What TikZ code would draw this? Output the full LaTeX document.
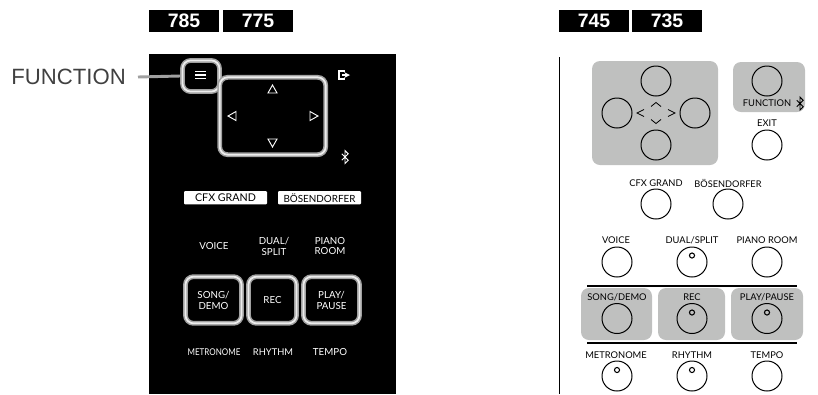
\documentclass[tikz,border=0pt]{standalone}
\usepackage{fontspec}
\setmainfont{Lato}
\newfontfamily\headfont{Liberation Sans}
\definecolor{panelgray}{HTML}{BFC0BF}
\definecolor{rimgray}{HTML}{A0A0A0}
\definecolor{rimlight}{HTML}{EDEDED}
\tikzset{
  x=0.75pt,y=-0.75pt,
  badge/.style={fill=black,text=white,minimum width=52.5pt,minimum height=16.5pt,inner sep=0pt,font=\headfont\bfseries\fontsize{14.6}{14}\selectfont},
  lab/.style={font=\fontsize{7}{7.5}\selectfont,inner sep=0pt,align=center},
  wlab/.style={font=\fontsize{7.3}{8.2}\selectfont,inner sep=0pt,align=center,text=white},
  knob/.style={circle,draw=black,line width=0.75pt,minimum size=22.5pt,inner sep=0pt},
  rim/.style={rectangle,rounded corners=6pt,draw=rimgray,line width=3.6pt,inner sep=0pt,
     postaction={draw=rimlight,line width=1.3pt}},
  hilite/.style={fill=panelgray,rounded corners=6pt},
  arrowmark/.style={draw=white,line width=0.7pt,line join=miter},
  cue/.style={draw=black,line width=0.6pt},
  ledmark/.style={circle,draw=black,line width=0.8pt,minimum size=3.8pt,inner sep=0pt},
  whitetag/.style={fill=white,rounded corners=0.8pt,minimum width=62.25pt,minimum height=10pt,inner sep=0pt,align=center},
}
\newcommand{\btsym}[3]{% x,y,colour
  \draw[#3,line width=0.7pt] (#1-3.2,#2-3.2) -- (#1+3.2,#2+3.2) -- (#1,#2+6.4) -- (#1,#2-6.4) -- (#1+3.2,#2-3.2) -- (#1-3.2,#2+3.2);}
\begin{document}
\begin{tikzpicture}
\useasboundingbox (0,0) rectangle (818,394);
% badges
\node[badge] (b785) at (184,21) {785};
\node[badge] (b775) at (258,21) {775};
\node[badge] (b745) at (594,21) {745};
\node[badge] (b735) at (667,21) {735};
% left panel
\fill[black] (149,54) rectangle (396,394);
\node[font=\headfont\fontsize{16.6}{16}\selectfont,inner sep=0pt,text=black!75,anchor=east] (fn) at (126,77) {FUNCTION};
\node[rim,minimum width=27.75pt,minimum height=23.25pt] (menu) at (201,76) {};
\foreach \yy in {71.5,75,78.5} \draw[white,line width=1.1pt] (195,\yy) -- (206,\yy);
\node[rim,minimum width=79.5pt,minimum height=58pt] (dpad) at (272.7,116) {};
\draw[rimgray,line width=2.2pt] ([xshift=9pt]fn.east) -- (menu.west);
% d-pad arrows
\draw[arrowmark] (272.5,85) -- (268,93) -- (277,93) -- cycle;
\draw[arrowmark] (272.5,147) -- (268,139) -- (277,139) -- cycle;
\draw[arrowmark] (228,116) -- (236,111.5) -- (236,120.5) -- cycle;
\draw[arrowmark] (318,116) -- (310,111.5) -- (310,120.5) -- cycle;
% exit icon
\draw[white,line width=0.9pt] (345,71) -- (339,71) -- (339,79) -- (345,79);
\draw[white,line width=0.9pt,-stealth] (342,75) -- (350,75);
\btsym{345}{157}{white}
% left labels
\node[whitetag,font=\fontsize{8}{8}\selectfont] (cfxL) at (225.5,197.7) {CFX GRAND};
\node[whitetag,font=\fontsize{7.4}{8}\selectfont] (bosL) at (319.5,197.7) {BÖSENDORFER};
\node[wlab] (voiceL) at (214,246) {VOICE};
\node[wlab] (dualL) at (274,246) {DUAL/\\SPLIT};
\node[wlab] (pianoL) at (330,246) {PIANO\\ROOM};
\node[rim,minimum width=42pt,minimum height=35pt] (songL) at (213.5,300) {};
\node[rim,minimum width=36pt,minimum height=35pt] (recL) at (272.5,300) {};
\node[rim,minimum width=42pt,minimum height=35pt] (playL) at (331.5,300) {};
\node[wlab] at (songL.center) {SONG/\\DEMO};
\node[wlab] at (recL.center) {REC};
\node[wlab] at (playL.center) {PLAY/\\PAUSE};
\node[wlab,font=\fontsize{7}{7}\selectfont,transform shape,xscale=.857] (metroL) at (214,352) {METRONOME};
\node[wlab,font=\fontsize{7}{7}\selectfont] (rhythmL) at (273,352) {RHYTHM};
\node[wlab] (tempoL) at (330,352) {TEMPO};
% right side
\draw[black,line width=0.8pt] (559.5,57) -- (559.5,394);
\fill[hilite] (592,61) rectangle (718,165);
\fill[hilite] (733,62) rectangle (805,112);
\fill[hilite] (581,288) rectangle (652,340);
\fill[hilite] (658,288) rectangle (725,340);
\fill[hilite] (731,288) rectangle (803,340);
\draw[black,line width=1pt] (587,286) -- (797,286);
\draw[black,line width=1pt] (587,343) -- (797,343);
% cross
\node[knob] (up) at (656,81) {};
\node[knob] (left) at (617,113) {};
\node[knob] (right) at (695,113) {};
\node[knob] (down) at (656,145) {};
\draw[cue] (644,109.5) -- (637,113) -- (644,116.5);
\draw[cue] (668,109.5) -- (675,113) -- (668,116.5);
\draw[cue] (651,106.5) -- (656,102.5) -- (661,106.5);
\draw[cue] (651,119.5) -- (656,123.5) -- (661,119.5);
% function / exit
\node[knob] (func) at (767,81) {};
\node[lab] (funcT) at (767,103) {FUNCTION};
\btsym{800}{103.5}{black}
\node[lab] (exitT) at (767,123) {EXIT};
\node[knob] (exit) at (767,145) {};
\node[lab] (cfxT) at (656,183) {CFX GRAND};
\node[lab,font=\fontsize{6.9}{8}\selectfont] (bosT) at (728,183) {BÖSENDORFER};
\node[knob] (cfx) at (656,204) {};
\node[knob] (bos) at (728,204) {};
\node[lab] (voiceT) at (616,240) {VOICE};
\node[lab] (dualT) at (692,240) {DUAL/SPLIT};
\node[lab] (pianoT) at (767,240) {PIANO ROOM};
\node[knob] (voice) at (617,262) {};
\node[knob] (dual) at (692,262) {};
\node[knob] (piano) at (767,262) {};
\node[lab] (songT) at (617,297.5) {SONG/DEMO};
\node[lab] (recT) at (692,297.5) {REC};
\node[lab] (playT) at (767,297.5) {PLAY/PAUSE};
\node[knob] (song) at (617,318.5) {};
\node[knob] (rec) at (692,318.5) {};
\node[knob] (play) at (767,318.5) {};
\node[lab] (metroT) at (616,355) {METRONOME};
\node[lab] (rhythmT) at (692,355) {RHYTHM};
\node[lab] (tempoT) at (767,355) {TEMPO};
\node[knob] (metro) at (617,376) {};
\node[knob] (rhythm) at (692,376) {};
\node[knob] (tempo) at (767,376) {};
\node[ledmark] at (692,255.5) {};
\node[ledmark] at (692,312.5) {};
\node[ledmark] at (767,312.5) {};
\node[ledmark] at (617,370) {};
\node[ledmark] at (692,370) {};
\end{tikzpicture}
\end{document}
